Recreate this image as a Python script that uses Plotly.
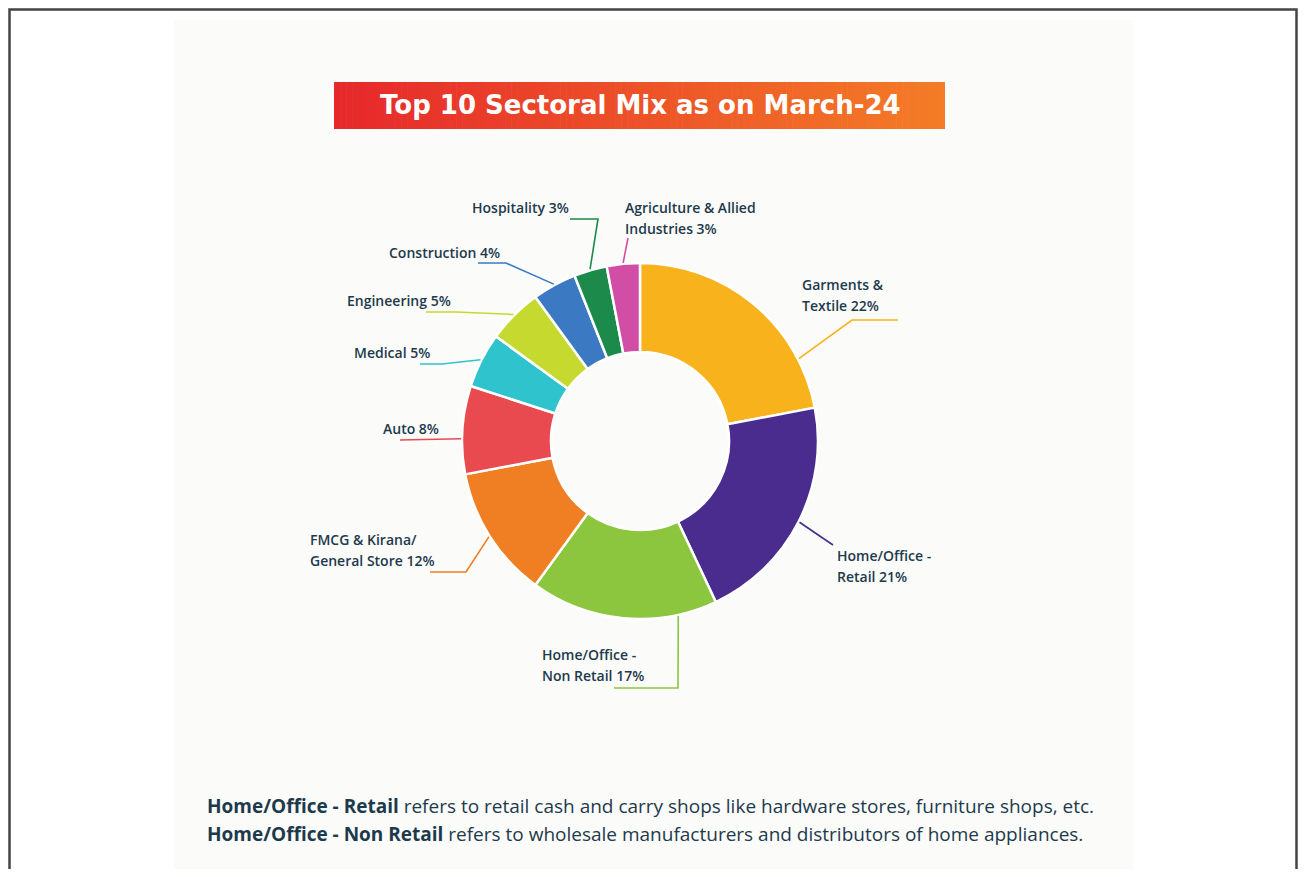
import math
import plotly.graph_objects as go

# ---------------- data ----------------
sectors = [
    "Garments & Textile",
    "Home/Office - Retail",
    "Home/Office - Non Retail",
    "FMCG & Kirana/ General Store",
    "Auto",
    "Medical",
    "Engineering",
    "Construction",
    "Hospitality",
    "Agriculture & Allied Industries",
]
shares = [22, 21, 17, 12, 8, 5, 5, 4, 3, 3]
label_texts = [
    "Garments &<br>Textile 22%",
    "Home/Office -<br>Retail 21%",
    "Home/Office -<br>Non Retail 17%",
    "FMCG & Kirana/<br>General Store 12%",
    "Auto 8%",
    "Medical 5%",
    "Engineering 5%",
    "Construction 4%",
    "Hospitality 3%",
    "Agriculture & Allied<br>Industries 3%",
]
colors = ["#F8B21C", "#4A2C8E", "#8CC63F", "#F07E22", "#E84A4F",
          "#2FC3CE", "#C6D92F", "#3B79C3", "#1B8A4B", "#D24EA6"]

title_text = "Top 10 Sectoral Mix as on March-24"
notes = [
    "<b>Home/Office - Retail</b> refers to retail cash and carry shops like hardware stores, furniture shops, etc.",
    "<b>Home/Office - Non Retail</b> refers to wholesale manufacturers and distributors of home appliances.",
]

# ---------------- layout constants (window pixels) ----------------
OFF = 8                      # page body margin
W, H = 1306 - 2 * OFF, 877 - 2 * OFF
CX, CY, R = 640, 441, 178
TEXT_COLOR = "#1d3a4c"
LABEL_FONT = "Open Sans"
LINE_GAP = 21

label_layout = [
    dict(frac=0.79, elbow=(852, 320), end=(898, 320), tx=800, ty=295),
    dict(frac=0.50, elbow=None, end=(833, 545), tx=835, ty=566),
    dict(frac=0.21, elbow=(678, 688), end=(614, 688), tx=540, ty=665),
    dict(frac=0.50, elbow=(466, 572), end=(430, 572), tx=308, ty=550),
    dict(frac=0.40, elbow=None, end=(400, 440), tx=381, ty=428),
    dict(frac=0.50, elbow=(442, 364), end=(420, 364), tx=352, ty=352),
    dict(frac=0.50, elbow=(456, 312), end=(426, 312), tx=345, ty=300),
    dict(frac=0.50, elbow=(506, 263), end=(478, 263), tx=387, ty=252),
    dict(frac=0.50, elbow=(598, 219), end=(570, 219), tx=470, ty=208),
    dict(frac=0.50, elbow=None, end=(628, 238), tx=623, ty=218),
]


def px(x):
    return (x - OFF) / W


def py(y):
    return 1 - (y - OFF) / H


fig = go.Figure()
fig.add_trace(go.Pie(
    labels=sectors,
    values=shares,
    sort=False,
    direction="clockwise",
    rotation=0,
    hole=0.5,
    textinfo="none",
    hoverinfo="label+percent",
    marker=dict(colors=colors, line=dict(color="white", width=2.5)),
    domain=dict(x=[px(CX - R), px(CX + R)], y=[py(CY + R), py(CY - R)]),
    showlegend=False,
))

shapes = []
annotations = []

# panel and outer border
shapes.append(dict(type="rect", xref="paper", yref="paper",
                   x0=px(174), x1=px(1133), y0=py(872), y1=py(20),
                   fillcolor="#FBFBFA", line=dict(width=0), layer="below"))
shapes.append(dict(type="path", xref="paper", yref="paper",
                   path=f"M {px(9.5)},{py(890)} L {px(9.5)},{py(9.5)} L {px(1296.5)},{py(9.5)} L {px(1296.5)},{py(890)}",
                   line=dict(color="#444444", width=2.5)))

# title banner: horizontal red -> orange gradient built from thin strips
c0 = (0xE6, 0x28, 0x2B)
c1 = (0xF4, 0x7C, 0x26)
BX0, BX1, BY0, BY1 = 334, 945, 82, 129
n_strips = 100
for k in range(n_strips):
    t = k / (n_strips - 1)
    col = "rgb({},{},{})".format(*[round(a + (b - a) * t) for a, b in zip(c0, c1)])
    xa = BX0 + (BX1 - BX0) * k / n_strips
    xb = BX0 + (BX1 - BX0) * (k + 1) / n_strips + 0.6
    shapes.append(dict(type="rect", xref="paper", yref="paper",
                       x0=px(xa), x1=px(min(xb, BX1)), y0=py(BY1), y1=py(BY0),
                       fillcolor=col, line=dict(width=0)))
annotations.append(dict(x=px(640), y=py(105), xref="paper", yref="paper",
                        text=title_text, showarrow=False, xanchor="center", yanchor="middle",
                        font=dict(family="DejaVu Sans", size=26, color="white", weight="bold")))

total = sum(shares)
cum = 0
for i, v in enumerate(shares):
    cfg = label_layout[i]
    ang = 2 * math.pi * (cum + cfg["frac"] * v) / total
    sx = CX + (R + 1) * math.sin(ang)
    sy = CY - (R + 1) * math.cos(ang)
    pts = [(sx, sy)]
    if cfg["elbow"] is not None:
        pts.append(cfg["elbow"])
    pts.append(cfg["end"])
    path = "M " + " L ".join(f"{px(a)},{py(b)}" for a, b in pts)
    shapes.append(dict(type="path", xref="paper", yref="paper", path=path,
                       line=dict(color=colors[i], width=1.6)))
    lines = label_texts[i].split("<br>")
    n = len(lines)
    for k, line in enumerate(lines):
        yy = cfg["ty"] + (k - (n - 1) / 2) * LINE_GAP
        annotations.append(dict(
            x=px(cfg["tx"]), y=py(yy), xref="paper", yref="paper",
            xanchor="left", yanchor="middle", align="left", showarrow=False,
            text=line,
            font=dict(family=LABEL_FONT, size=14, color=TEXT_COLOR, weight=600),
        ))
    cum += v

for j, note in enumerate(notes):
    annotations.append(dict(x=px(205), y=py(806 + 28 * j), xref="paper", yref="paper",
                            text=note, showarrow=False, xanchor="left", yanchor="middle",
                            font=dict(family=LABEL_FONT, size=19, color=TEXT_COLOR)))

fig.update_layout(
    width=W, height=H,
    margin=dict(l=0, r=0, t=0, b=0),
    paper_bgcolor="white",
    plot_bgcolor="white",
    shapes=shapes,
    annotations=annotations,
)

fig.write_html("out.html")
